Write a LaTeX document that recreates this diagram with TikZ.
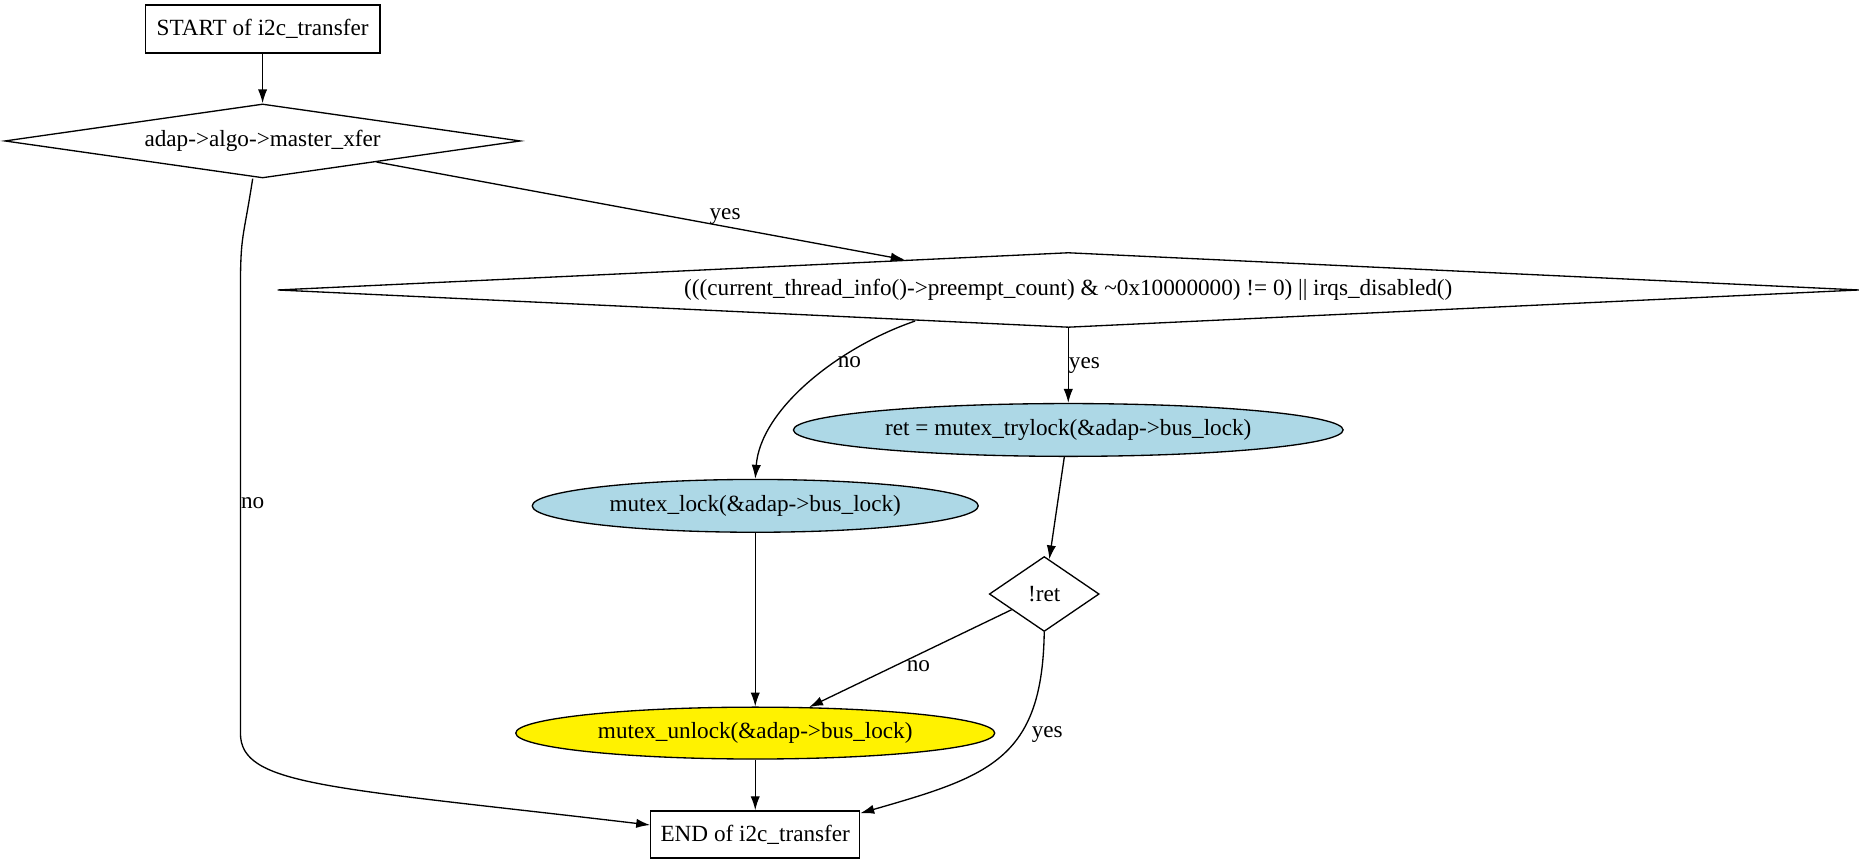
\documentclass[tikz,border=0pt]{standalone}
\usepackage{fontspec}
\setmainfont{Liberation Serif}
\usepackage{xcolor}
\usepackage{tikz}
\usetikzlibrary{shapes,arrows,arrows.meta}
\definecolor{lightblue}{HTML}{ADD8E6}
\tikzstyle{block} = [rectangle, draw, text centered, minimum height=1cm]
\tikzstyle{decision} = [diamond, draw, text centered, inner sep=0pt]
\tikzstyle{cloud} = [draw, ellipse, fill=lightblue, inner sep=0pt, minimum height=1.12cm]
\tikzstyle{line} = [draw, -{Latex[length=8.4pt,width=5.6pt]}]
\tikzstyle{tag} = [inner sep=1pt]

\begin{document}
\begin{tikzpicture}[node distance=1cm,auto,line width=0.8pt,font={\fontsize{14pt}{17pt}\selectfont}]
  \useasboundingbox (0,0) rectangle (39.56,-18.33);
      \node [block, minimum width=4.98cm, minimum height=1.02cm] (start) at (5.57,-0.615) {START of i2c\_transfer};
      \node [decision, below of=start, yshift=-1.375cm, minimum width=10.94cm, minimum height=1.57cm, aspect=7] (master) {adap->algo->master\_xfer};
      \node [decision, below of=master, xshift=17.09cm, yshift=-2.161cm, minimum width=33.55cm, minimum height=1.59cm, aspect=21] (atomic) {(((current\_thread\_info()->preempt\_count) \& \textasciitilde0x10000000) != 0) || irqs\_disabled()};
      \node [cloud, below of=atomic, yshift=-1.969cm, minimum width=11.66cm] (trylock) {ret = mutex\_trylock(\&adap->bus\_lock)};
      \node [cloud, below of=trylock, xshift=-6.64cm, yshift=-0.61cm, minimum width=9.46cm] (lock) {mutex\_lock(\&adap->bus\_lock)};
      \node [decision, below of=trylock, xshift=-0.51cm, yshift=-2.48cm, minimum width=2.33cm, minimum height=1.59cm, aspect=1.5] (notret) {!ret};
      \node [cloud, below of=lock, yshift=-3.82cm, minimum width=10.16cm, minimum height=1.1cm, fill=yellow] (unlock) {mutex\_unlock(\&adap->bus\_lock)};
      \node [block, below of=unlock, yshift=-1.15cm, minimum width=4.43cm] (stop) {END of i2c\_transfer};

      \path [line] (start) -- (master);
      \path [line] (master) -- (atomic) node[above, pos=0.66, inner sep=1pt] {yes};
      \path [line] ([xshift=-0.21cm]master.south) .. controls +(-0.2,-1.3) and +(0,1.2) .. ([xshift=-0.47cm]master.south |- atomic.center)
        -- ([xshift=-0.47cm]master.south |- unlock.center) node[right, pos=0.48, inner sep=0pt] {no}
        .. controls +(0,-1.12) and +(-6.85,0.81) .. ([yshift=0.2cm]stop.west);
      \path [line] ([xshift=-3.25cm,yshift=0.15cm]atomic.south) .. controls +(-1.61,-0.55) and +(0.11,1.48) .. (lock.north) node[tag, right, pos=0.36] {no};
      \path [line] (atomic) -- (trylock) node[right, midway, inner sep=0pt] {yes};
      \path [line] (trylock) -- (notret);
      \path [line] (lock) -- (unlock);
      \path [line] (notret) -- (unlock) node[below, pos=0.46, inner sep=3pt] {no};
      \path [line] (notret.south) .. controls +(-0.04,-2.71) and +(2.71,0.78) .. ([yshift=0.45cm]stop.east) node[right, pos=0.37, inner sep=7pt] {yes};
      \path [line] (unlock) -- (stop);
    \end{tikzpicture}
\end{document}
